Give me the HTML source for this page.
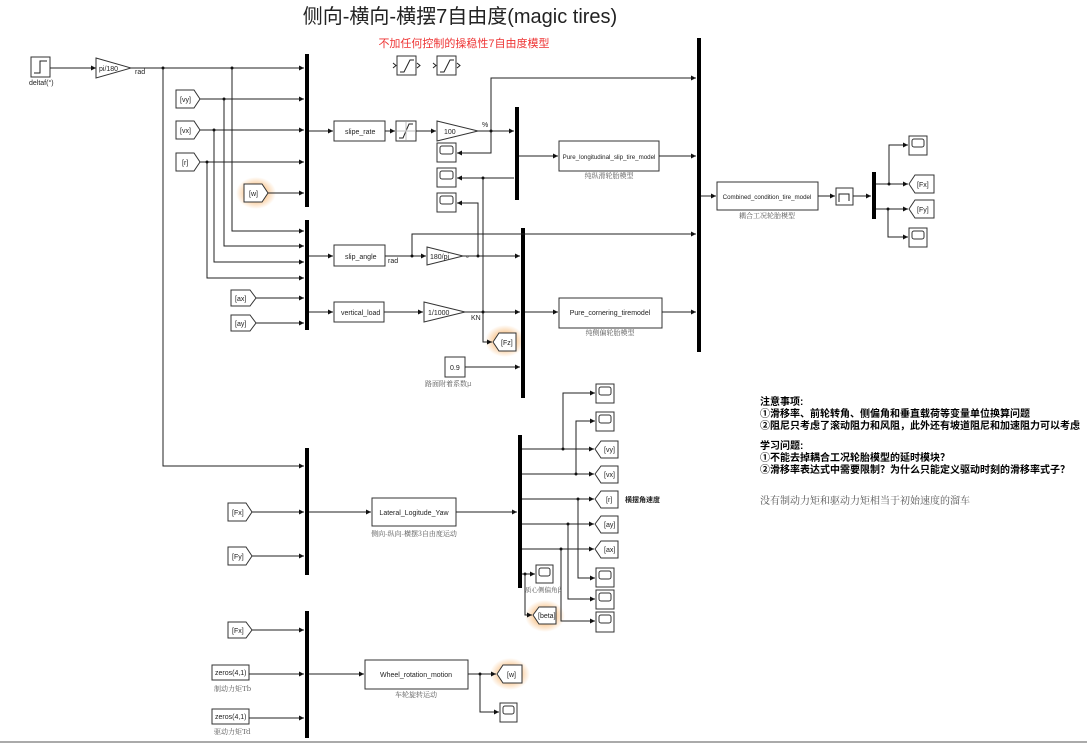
<!DOCTYPE html>
<html><head><meta charset="utf-8"><style>
body{margin:0;background:#fff;width:1087px;height:744px;overflow:hidden}
svg{display:block}
text{font-family:"Liberation Sans","Noto Sans CJK SC",sans-serif;font-size:7px;fill:#222}
.b{fill:#fff;stroke:#333;stroke-width:1}
.l{fill:none;stroke:#222;stroke-width:1}
.m{fill:#000}
.cn{font-family:"Noto Serif CJK SC","Noto Sans CJK SC",serif;font-size:7px;fill:#555}
.sm{font-size:6.2px}
</style></head><body>
<svg width="1087" height="744" viewBox="0 0 1087 744">
<defs>
<marker id="a" markerWidth="6" markerHeight="6" refX="5" refY="3" orient="auto" markerUnits="userSpaceOnUse"><path d="M0,0.5L5,3L0,5.5z" fill="#111"/></marker>
<radialGradient id="g"><stop offset="0.4" stop-color="#f7b36a" stop-opacity="0.8"/><stop offset="1" stop-color="#f7b36a" stop-opacity="0"/></radialGradient>
</defs>
<g transform="translate(0,0)">
<text x="460" y="23" text-anchor="middle" style="font-size:20px;fill:#222">侧向-横向-横摆7自由度(magic tires)</text>
<text x="464" y="47" text-anchor="middle" style="font-size:11px;fill:#e33">不加任何控制的操稳性7自由度模型</text>

<ellipse cx="256" cy="193" rx="20" ry="16" fill="url(#g)"/>
<ellipse cx="505" cy="341" rx="20" ry="16" fill="url(#g)"/>
<ellipse cx="545" cy="616" rx="20" ry="16" fill="url(#g)"/>
<ellipse cx="510" cy="674" rx="20" ry="16" fill="url(#g)"/>

<rect class="m" x="305" y="54" width="4" height="153"/>
<rect class="m" x="305" y="220" width="4" height="110"/>
<rect class="m" x="515" y="107" width="4" height="93"/>
<rect class="m" x="521" y="228" width="4" height="170"/>
<rect class="m" x="697" y="38" width="4" height="314"/>
<rect class="m" x="872" y="172" width="4" height="47"/>
<rect class="m" x="305" y="448" width="4" height="127"/>
<rect class="m" x="518" y="435" width="4" height="153"/>
<rect class="m" x="305" y="611" width="4" height="127"/>

<rect class="b" x="31" y="57" width="19" height="20"/>
<path class="l" d="M34,73H40V61H47"/>
<text x="29" y="85">deltaf(°)</text>
<path class="l" marker-end="url(#a)" d="M50,68H96"/>
<polygon class="b" points="96,58 131,68 96,78"/>
<text x="99" y="71">pi/180</text>
<text x="135" y="74">rad</text>
<path class="l" marker-end="url(#a)" d="M131,68H304"/>
<path class="l" marker-end="url(#a)" d="M163,68V466H304"/>
<path class="l" marker-end="url(#a)" d="M232,68V231H304"/>

<g class="b">
<polygon points="176,90 194,90 200,99 194,108 176,108"/>
<polygon points="176,121 194,121 200,130 194,139 176,139"/>
<polygon points="176,153 194,153 200,162 194,171 176,171"/>
<polygon points="244,184 262,184 268,193 262,202 244,202"/>
<polygon points="231,290 250,290 256,298 250,306 231,306"/>
<polygon points="231,315 250,315 256,323 250,331 231,331"/>
<polygon points="228,503 246,503 252,512 246,521 228,521"/>
<polygon points="228,547 246,547 252,556 246,565 228,565"/>
<polygon points="228,622 246,622 252,630 246,638 228,638"/>
</g>
<text x="180" y="102">[vy]</text><text x="180" y="133">[vx]</text><text x="182" y="165">[r]</text>
<text x="249" y="196">[w]</text><text x="235" y="301">[ax]</text><text x="235" y="326">[ay]</text>
<text x="232" y="515">[Fx]</text><text x="232" y="559">[Fy]</text><text x="232" y="633">[Fx]</text>

<path class="l" marker-end="url(#a)" d="M200,99H304"/>
<path class="l" marker-end="url(#a)" d="M224,99V246H304"/>
<path class="l" marker-end="url(#a)" d="M200,130H304"/>
<path class="l" marker-end="url(#a)" d="M214,130V262H304"/>
<path class="l" marker-end="url(#a)" d="M200,162H304"/>
<path class="l" marker-end="url(#a)" d="M207,162V278H304"/>
<path class="l" marker-end="url(#a)" d="M268,193H304"/>
<path class="l" marker-end="url(#a)" d="M256,298H304"/>
<path class="l" marker-end="url(#a)" d="M256,323H304"/>
<g fill="#111"><circle cx="163" cy="68" r="1.5"/><circle cx="232" cy="68" r="1.5"/><circle cx="224" cy="99" r="1.5"/><circle cx="214" cy="130" r="1.5"/><circle cx="207" cy="162" r="1.5"/></g>

<rect class="b" x="397" y="56" width="19" height="19"/><path class="l" d="M400,72H404L410,60H414"/>
<rect class="b" x="437" y="56" width="19" height="19"/><path class="l" d="M440,72H444L450,60H454"/>
<path class="l" d="M393,63L396,65.5L393,68M417,63L420,65.5L417,68M433,63L436,65.5L433,68M457,63L460,65.5L457,68"/>

<path class="l" marker-end="url(#a)" d="M309,131H333"/>
<rect class="b" x="334" y="121" width="51" height="20"/><text x="345" y="134">slipe_rate</text>
<path class="l" marker-end="url(#a)" d="M385,131H395"/>
<rect class="b" x="396" y="121" width="20" height="20"/><path class="l" d="M399,138H403L409,124H413"/><path class="l" style="stroke:#bbb" d="M406,122V140M397,131H415"/>
<path class="l" marker-end="url(#a)" d="M416,131H436"/>
<polygon class="b" points="437,121 478,131 437,141"/><text x="444" y="134">100</text><text x="482" y="127">%</text>
<path class="l" marker-end="url(#a)" d="M478,131H514"/>
<path class="l" marker-end="url(#a)" d="M491,131V78H696"/>
<path class="l" marker-end="url(#a)" d="M491,131V153H457"/>
<rect class="b" x="437" y="143" width="19" height="19"/><rect class="b" x="440" y="146" width="13" height="8" rx="2"/>
<rect class="b" x="437" y="168" width="19" height="19"/><rect class="b" x="440" y="171" width="13" height="8" rx="2"/>
<rect class="b" x="437" y="193" width="19" height="19"/><rect class="b" x="440" y="196" width="13" height="8" rx="2"/>
<path class="l" marker-end="url(#a)" d="M514,178H457"/>
<path class="l" d="M483,178V312"/>
<path class="l" marker-end="url(#a)" d="M483,312V342H492"/>
<path class="l" marker-end="url(#a)" d="M478,256V203H457"/>
<polygon class="b" points="493,342 499,333 516,333 516,351 499,351"/><text x="501" y="345">[Fz]</text>

<path class="l" marker-end="url(#a)" d="M309,256H333"/>
<rect class="b" x="334" y="245" width="51" height="21"/><text x="345" y="259">slip_angle</text><text x="388" y="263">rad</text>
<path class="l" marker-end="url(#a)" d="M385,256H426"/>
<path class="l" marker-end="url(#a)" d="M412,256V234H696"/>
<polygon class="b" points="427,247 463,256 427,265"/><text x="430" y="259">180/pi</text><text x="466" y="261">°</text>
<path class="l" marker-end="url(#a)" d="M463,256H520"/>
<path class="l" marker-end="url(#a)" d="M309,312H333"/>
<rect class="b" x="334" y="302" width="50" height="20"/><text x="341" y="315">vertical_load</text>
<path class="l" marker-end="url(#a)" d="M384,312H423"/>
<polygon class="b" points="424,302 465,312 424,322"/><text x="428" y="315">1/1000</text><text x="471" y="320">KN</text>
<path class="l" marker-end="url(#a)" d="M465,312H520"/>
<rect class="b" x="445" y="357" width="20" height="20"/><text x="450" y="370">0.9</text>
<text class="cn" x="425" y="386">路面附着系数μ</text>
<path class="l" marker-end="url(#a)" d="M465,367H520"/>
<g fill="#111"><circle cx="491" cy="131" r="1.5"/><circle cx="483" cy="178" r="1.5"/><circle cx="483" cy="312" r="1.5"/><circle cx="412" cy="256" r="1.5"/><circle cx="478" cy="256" r="1.5"/></g>

<path class="l" marker-end="url(#a)" d="M519,156H558"/>
<rect class="b" x="559" y="141" width="100" height="30"/><text class="sm" x="609" y="159" text-anchor="middle">Pure_longitudinal_slip_tire_model</text>
<text class="cn" x="609" y="178" text-anchor="middle">纯纵滑轮胎模型</text>
<path class="l" marker-end="url(#a)" d="M659,156H696"/>
<path class="l" marker-end="url(#a)" d="M525,312H558"/>
<rect class="b" x="559" y="298" width="103" height="30"/><text x="610" y="315" text-anchor="middle">Pure_cornering_tiremodel</text>
<text class="cn" x="610" y="335" text-anchor="middle">纯侧偏轮胎模型</text>
<path class="l" marker-end="url(#a)" d="M662,312H696"/>

<path class="l" marker-end="url(#a)" d="M701,196H716"/>
<rect class="b" x="717" y="182" width="101" height="28"/><text class="sm" x="767" y="199" text-anchor="middle">Combined_condition_tire_model</text>
<text class="cn" x="767" y="218" text-anchor="middle">耦合工况轮胎模型</text>
<path class="l" marker-end="url(#a)" d="M818,196H835"/>
<rect class="b" x="836" y="188" width="17" height="17"/><path class="l" d="M839,202V194H849V201"/>
<path class="l" marker-end="url(#a)" d="M853,196H871"/>
<path class="l" marker-end="url(#a)" d="M876,184H908"/>
<path class="l" marker-end="url(#a)" d="M889,184V145H908"/>
<path class="l" marker-end="url(#a)" d="M876,209H908"/>
<path class="l" marker-end="url(#a)" d="M888,209V237H908"/>
<g fill="#111"><circle cx="889" cy="184" r="1.5"/><circle cx="888" cy="209" r="1.5"/></g>
<rect class="b" x="909" y="136" width="18" height="19"/><rect class="b" x="912" y="139" width="12" height="8" rx="2"/>
<rect class="b" x="909" y="228" width="18" height="19"/><rect class="b" x="912" y="231" width="12" height="8" rx="2"/>
<polygon class="b" points="909,184 915,175 934,175 934,193 915,193"/><text x="917" y="187">[Fx]</text>
<polygon class="b" points="909,209 915,200 934,200 934,218 915,218"/><text x="917" y="212">[Fy]</text>

<g>
<text x="760" y="405" style="font-size:10px;font-weight:bold;fill:#000">注意事项:</text>
<text x="760" y="417" style="font-size:10px;font-weight:bold;fill:#000">①滑移率、前轮转角、侧偏角和垂直载荷等变量单位换算问题</text>
<text x="760" y="429" style="font-size:10px;font-weight:bold;fill:#000">②阻尼只考虑了滚动阻力和风阻，此外还有坡道阻尼和加速阻力可以考虑</text>
<text x="760" y="449" style="font-size:10px;font-weight:bold;fill:#000">学习问题:</text>
<text x="760" y="461" style="font-size:10px;font-weight:bold;fill:#000">①不能去掉耦合工况轮胎模型的延时模块？</text>
<text x="760" y="473" style="font-size:10px;font-weight:bold;fill:#000">②滑移率表达式中需要限制？为什么只能定义驱动时刻的滑移率式子？</text>
</g>
<text x="760" y="504" class="cn" style="font-size:10px;fill:#555">没有制动力矩和驱动力矩相当于初始速度的溜车</text>

<path class="l" marker-end="url(#a)" d="M252,512H304"/>
<path class="l" marker-end="url(#a)" d="M252,556H304"/>
<path class="l" marker-end="url(#a)" d="M309,512H371"/>
<rect class="b" x="372" y="498" width="84" height="28"/><text x="414" y="515" text-anchor="middle">Lateral_Logitude_Yaw</text>
<text class="cn" x="414" y="536" text-anchor="middle">侧向-纵向-横摆3自由度运动</text>
<path class="l" marker-end="url(#a)" d="M456,512H517"/>

<path class="l" marker-end="url(#a)" d="M522,449H594"/>
<path class="l" marker-end="url(#a)" d="M563,449V393H595"/>
<path class="l" marker-end="url(#a)" d="M522,474H594"/>
<path class="l" marker-end="url(#a)" d="M576,474V421H595"/>
<path class="l" marker-end="url(#a)" d="M522,499H594"/>
<path class="l" marker-end="url(#a)" d="M578,499V578H595"/>
<path class="l" marker-end="url(#a)" d="M522,524H594"/>
<path class="l" marker-end="url(#a)" d="M568,524V599H595"/>
<path class="l" marker-end="url(#a)" d="M522,549H594"/>
<path class="l" marker-end="url(#a)" d="M561,549V621H595"/>
<path class="l" marker-end="url(#a)" d="M522,574H535"/>
<path class="l" marker-end="url(#a)" d="M525,574V615H532"/>
<g fill="#111"><circle cx="563" cy="449" r="1.5"/><circle cx="576" cy="474" r="1.5"/><circle cx="578" cy="499" r="1.5"/><circle cx="568" cy="524" r="1.5"/><circle cx="561" cy="549" r="1.5"/><circle cx="525" cy="574" r="1.5"/></g>
<g>
<rect class="b" x="596" y="384" width="18" height="19"/><rect class="b" x="599" y="387" width="12" height="8" rx="2"/>
<rect class="b" x="596" y="412" width="18" height="19"/><rect class="b" x="599" y="415" width="12" height="8" rx="2"/>
<rect class="b" x="596" y="568" width="18" height="19"/><rect class="b" x="599" y="571" width="12" height="8" rx="2"/>
<rect class="b" x="596" y="590" width="18" height="19"/><rect class="b" x="599" y="593" width="12" height="8" rx="2"/>
<rect class="b" x="596" y="612" width="18" height="20"/><rect class="b" x="599" y="615" width="12" height="8" rx="2"/>
<rect class="b" x="536" y="565" width="17" height="18"/><rect class="b" x="539" y="568" width="11" height="8" rx="2"/>
</g>
<text class="cn" x="525" y="592" style="font-size:6.5px">质心侧偏角β</text>
<g class="b">
<polygon points="595,449 601,441 618,441 618,458 601,458"/>
<polygon points="595,474 601,466 618,466 618,483 601,483"/>
<polygon points="595,499 601,491 618,491 618,508 601,508"/>
<polygon points="595,524 601,516 618,516 618,533 601,533"/>
<polygon points="595,549 601,541 618,541 618,558 601,558"/>
<polygon points="533,615 539,607 556,607 556,624 539,624"/>
</g>
<text x="604" y="452">[vy]</text><text x="604" y="477">[vx]</text><text x="606" y="502">[r]</text>
<text x="604" y="527">[ay]</text><text x="604" y="552">[ax]</text><text x="538" y="618">[beta]</text>
<text x="625" y="502" style="font-size:7px;font-weight:bold">横摆角速度</text>

<path class="l" marker-end="url(#a)" d="M252,630H304"/>
<rect class="b" x="212" y="665" width="37" height="15"/><text x="215" y="675">zeros(4,1)</text>
<text class="cn" x="214" y="691">制动力矩Tb</text>
<rect class="b" x="212" y="709" width="37" height="15"/><text x="215" y="719">zeros(4,1)</text>
<text class="cn" x="214" y="734">驱动力矩Td</text>
<path class="l" marker-end="url(#a)" d="M249,674H304"/>
<path class="l" marker-end="url(#a)" d="M249,718H304"/>
<path class="l" marker-end="url(#a)" d="M309,674H364"/>
<rect class="b" x="365" y="660" width="103" height="29"/><text x="416" y="677" text-anchor="middle">Wheel_rotation_motion</text>
<text class="cn" x="416" y="697" text-anchor="middle">车轮旋转运动</text>
<path class="l" marker-end="url(#a)" d="M468,674H496"/>
<path class="l" marker-end="url(#a)" d="M480,674V712H499"/>
<circle cx="480" cy="674" r="1.5" fill="#111"/>
<polygon class="b" points="497,674 503,665 522,665 522,683 503,683"/><text x="507" y="677">[w]</text>
<rect class="b" x="500" y="703" width="17" height="19"/><rect class="b" x="503" y="706" width="11" height="8" rx="2"/>
<line x1="0" y1="742" x2="1087" y2="742" stroke="#aaa" stroke-width="2"/>
</g>
</svg>
</body></html>
